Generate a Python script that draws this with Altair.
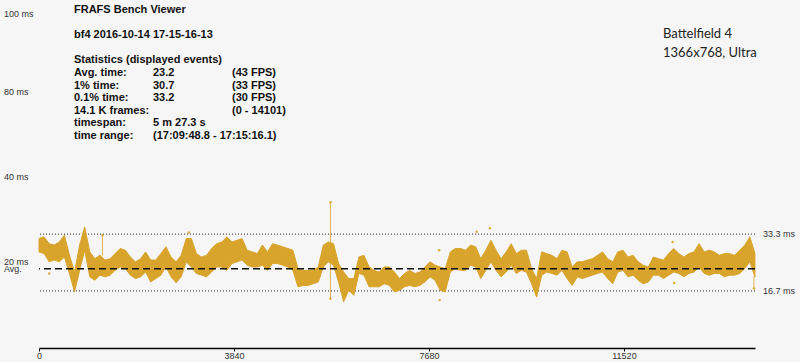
import altair as alt
import pandas as pd

# ---------------- data ----------------
frames = list(range(0, 14101, 100))
hi = [32.0, 32.5, 30.5, 30.1, 31.0, 33.0, 27.1, 22.2, 30.1, 35.4,
      28.1, 26.1, 27.1, 25.7, 26.1, 27.6, 29.1, 28.6, 26.6, 25.2,
      26.1, 28.1, 25.7, 25.7, 27.6, 29.6, 26.6, 25.2, 27.1, 32.0,
      32.0, 27.6, 26.6, 27.1, 29.1, 30.5,
      31.0, 32.5, 31.0, 31.5, 32.0, 28.6, 28.1, 27.6, 30.1, 28.1,
      30.5, 30.1, 29.6, 29.1, 28.6, 23.2, 22.7, 22.7, 22.7, 23.7,
      30.1, 31.0, 30.5, 24.7, 22.2, 20.3, 20.3, 26.6, 27.1, 23.7,
      22.7, 22.2, 23.7, 23.7, 22.2,
      20.3, 21.8, 22.7, 21.8, 22.2, 23.7, 25.2, 24.2, 23.7, 23.2,
      28.1, 29.1, 29.1, 28.6, 30.1, 29.6, 26.1, 28.6, 31.5, 28.6,
      26.1, 28.1, 30.5, 27.6, 28.6, 28.6, 23.2, 20.3, 28.1, 27.6,
      27.1, 26.1, 28.6, 28.1, 23.7, 25.2,
      25.2, 25.7, 26.1, 27.1, 28.1, 26.1, 25.2, 28.1, 28.6, 26.6,
      27.1, 25.2, 24.2, 23.7, 26.6, 26.1, 25.7, 27.6, 29.1, 27.6,
      26.6, 27.6, 28.1, 30.5, 28.1, 28.6, 28.1, 27.1, 27.6, 27.6,
      27.1, 28.6, 30.1, 32.5, 27.6]
lo = [28.1, 27.6, 25.2, 25.7, 25.2, 26.6, 21.8, 16.4, 22.7, 28.6,
      20.8, 19.8, 21.3, 20.8, 21.3, 22.7, 23.7, 23.2, 21.3, 20.3,
      20.8, 22.2, 19.3, 20.3, 21.3, 23.7, 20.8, 19.1, 20.8, 25.2,
      23.7, 21.8, 21.3, 20.8, 22.2, 23.7,
      23.7, 22.7, 24.7, 25.2, 25.7, 24.2, 23.7, 23.7, 24.2, 22.7,
      24.7, 24.7, 24.2, 23.7, 22.7, 17.9, 18.3, 18.3, 18.8, 19.3,
      23.7, 25.2, 24.2, 19.3, 13.5, 16.9, 15.4, 21.8, 21.3, 17.9,
      17.9, 17.9, 18.8, 18.3, 16.4,
      16.9, 17.9, 18.3, 17.9, 18.3, 19.3, 20.8, 19.8, 16.9, 16.4,
      22.2, 23.2, 22.7, 22.7, 24.2, 23.7, 20.3, 22.7, 25.2, 22.7,
      20.8, 22.2, 24.2, 21.8, 22.7, 22.2, 18.8, 14.9, 21.3, 22.2,
      21.8, 21.3, 22.7, 20.3, 18.3, 20.8,
      20.3, 20.8, 21.3, 21.8, 22.2, 20.3, 18.8, 22.2, 22.7, 20.8,
      21.3, 19.8, 18.8, 19.3, 21.3, 21.3, 20.3, 21.3, 22.2, 21.8,
      20.8, 21.8, 22.2, 23.7, 21.8, 21.3, 21.8, 21.8, 20.8, 21.3,
      21.3, 21.8, 23.2, 25.2, 20.8]

spike_frames = [1250, 5740, 14080]
spike_top = [33.0, 42.6, 21.0]
spike_bot = [27.0, 14.4, 17.4]

outlier_frames = [1250, 2950, 5740, 5740, 7880, 7890, 8620, 8880, 12480, 12510, 14080, 200]
outlier_vals = [33.0, 33.8, 42.6, 14.4, 28.6, 14.0, 34.0, 35.0, 31.0, 19.0, 17.4, 21.8]

avg_time = 23.2
limit_hi = 33.3
limit_lo = 16.7
x_ticks = [0, 3840, 7680, 11520]
y_label_texts = ["100 ms", "80 ms", "40 ms", "20 ms", "Avg."]
right_labels = ["33.3 ms", "16.7 ms"]

# (row, text) for the statistics block, three columns
info_col1 = [(0, "FRAFS Bench Viewer"), (2, "bf4 2016-10-14 17-15-16-13"),
             (4, "Statistics (displayed events)"), (5, "Avg. time:"),
             (6, "1% time:"), (7, "0.1% time:"), (8, "14.1 K frames:"),
             (9, "timespan:"), (10, "time range:")]
info_col2 = [(5, "23.2"), (6, "30.7"), (7, "33.2"), (9, "5 m 27.3 s"),
             (10, "(17:09:48.8 - 17:15:16.1)")]
info_col3 = [(5, "(43 FPS)"), (6, "(33 FPS)"), (7, "(30 FPS)"), (8, "(0 - 14101)")]
game_text = ["Battelfield 4", "1366x768, Ultra"]

# ---------------- layout / style ----------------
W, H = 716, 342
GOLD = "#D9A42C"
y_label_pos = [8, 86, 171, 256, 263]
col_x = [35, 114, 193]
row0_y, row_h = 7, 12.6

band_df = pd.DataFrame({"frame": frames, "hi": hi, "lo": lo})
spike_df = pd.DataFrame({"frame": spike_frames, "top": spike_top, "bot": spike_bot})
out_df = pd.DataFrame({"frame": outlier_frames, "v": outlier_vals})

xs = alt.Scale(domain=[0, 14101], nice=False, zero=False)
ys = alt.Scale(domain=[0, 100], nice=False)

x_axis = alt.Axis(values=x_ticks, title=None, grid=False, format="d",
                  domainColor="#000", domainWidth=1.5,
                  tickColor="#000", tickSize=3, tickWidth=1,
                  labelFont="Liberation Sans", labelFontSize=9,
                  labelColor="#333", labelPadding=0, labelFlush=False)

band = alt.Chart(band_df).mark_area(color=GOLD, stroke=GOLD, strokeWidth=1,
                                    opacity=1).encode(
    x=alt.X("frame:Q", scale=xs, axis=x_axis),
    y=alt.Y("hi:Q", scale=ys, axis=None),
    y2="lo:Q",
)

spikes = alt.Chart(spike_df).mark_rule(color=GOLD, strokeWidth=0.8).encode(
    x=alt.X("frame:Q", scale=xs, axis=x_axis),
    y=alt.Y("top:Q", scale=ys, axis=None), y2="bot:Q")

outs = alt.Chart(out_df).mark_point(color=GOLD, filled=True, size=6,
                                    opacity=0.9).encode(
    x=alt.X("frame:Q", scale=xs, axis=x_axis),
    y=alt.Y("v:Q", scale=ys, axis=None))

lim_df = pd.DataFrame({"v": [limit_hi, limit_lo], "t": right_labels})
dotted = alt.Chart(lim_df).mark_rule(color="#222", strokeDash=[1, 2],
                                     strokeWidth=1).encode(
    y=alt.Y("v:Q", scale=ys, axis=None))
right_txt = alt.Chart(lim_df).mark_text(align="left", baseline="middle",
                                        font="Liberation Sans", fontSize=9,
                                        color="#333").encode(
    y=alt.Y("v:Q", scale=ys, axis=None), x=alt.value(724), text="t:N")

avg_df = pd.DataFrame({"v": [avg_time]})
avg_rule = alt.Chart(avg_df).mark_rule(color="#111", strokeDash=[7, 4],
                                       strokeWidth=1.5).encode(
    y=alt.Y("v:Q", scale=ys, axis=None))


def txt(t, x, y, bold=False, font="Liberation Sans", size=9, color="#333"):
    df = pd.DataFrame({"t": [t]})
    return alt.Chart(df).mark_text(
        align="left", baseline="alphabetic", font=font, fontSize=size,
        fontWeight="bold" if bold else "normal", color=color).encode(
        x=alt.value(x), y=alt.value(y), text="t:N")


layers = [dotted, band, spikes, outs, avg_rule, right_txt]
for t, p in zip(y_label_texts, y_label_pos):
    layers.append(txt(t, -35, p + 3))
for ci, col in enumerate([info_col1, info_col2, info_col3]):
    for row, t in col:
        layers.append(txt(t, col_x[ci], row0_y + row_h * row, bold=True,
                          size=11, color="#111"))
for i, t in enumerate(game_text):
    layers.append(txt(t, 624, 31.5 + 19 * i, font="Lato", size=13,
                      color="#222"))

chart = alt.layer(*layers).properties(
    width=W, height=H,
    autosize=alt.AutoSizeParams(type="none"),
    padding={"left": 39, "top": 6, "right": 45, "bottom": 14},
    background="#f6f6f6",
).configure_view(stroke=None)

chart.save("out.html", embed_options={"renderer": "svg", "actions": False})
